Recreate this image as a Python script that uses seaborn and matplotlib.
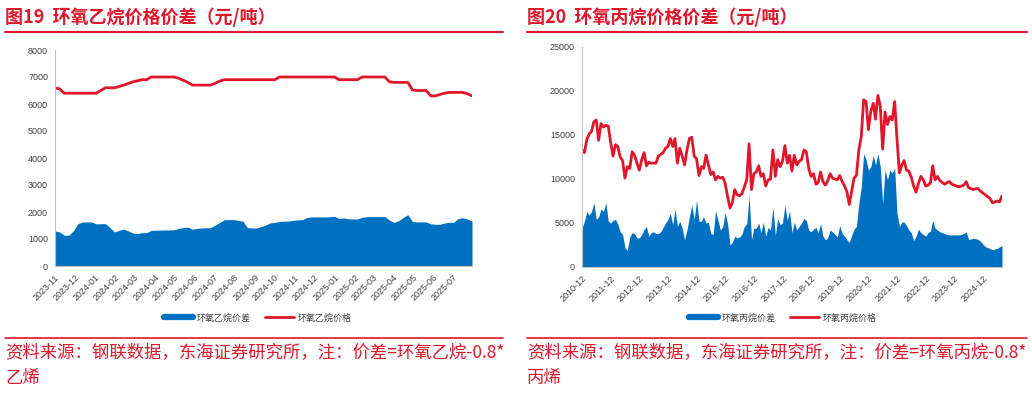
import matplotlib
matplotlib.use("Agg")
import matplotlib.pyplot as plt
import matplotlib.dates as mdates
from matplotlib.lines import Line2D
import seaborn as sns
import pandas as pd

# ---- 图19 环氧乙烷 (weekly, 2023-11 .. 2025-07) ----
eo_start = "2023-11-01"
eo_price = [6600, 6560, 6400, 6400, 6400, 6400, 6400, 6400, 6400, 6400,
            6500, 6600, 6600, 6600, 6650, 6700, 6760, 6820, 6860, 6900,
            6900, 7000, 7000, 7000, 7000, 7000, 7000, 6950, 6880, 6800,
            6700, 6700, 6700, 6700, 6700, 6770, 6850, 6900, 6900, 6900,
            6900, 6900, 6900, 6900, 6900, 6900, 6900, 6900, 6900, 7000,
            7000, 7000, 7000, 7000, 7000, 7000, 7000, 7000, 7000, 7000,
            7000, 7000, 6900, 6900, 6900, 6900, 6900, 7000, 7000, 7000,
            7000, 7000, 7000, 6820, 6800, 6800, 6800, 6800, 6520, 6500,
            6500, 6500, 6300, 6300, 6350, 6400, 6430, 6430, 6430, 6430,
            6380, 6300]
eo_spread = [1300, 1260, 1140, 1140, 1300, 1570, 1630, 1630, 1630, 1560,
             1565, 1570, 1420, 1260, 1320, 1370, 1300, 1220, 1200, 1236,
             1236, 1320, 1325, 1330, 1335, 1335, 1340, 1395, 1420, 1440,
             1360, 1395, 1409, 1415, 1420, 1520, 1620, 1718, 1718, 1718,
             1690, 1660, 1420, 1409, 1409, 1460, 1520, 1600, 1615, 1650,
             1660, 1665, 1690, 1710, 1718, 1800, 1817, 1817, 1817, 1817,
             1825, 1842, 1760, 1780, 1750, 1743, 1743, 1800, 1829, 1829,
             1829, 1829, 1829, 1700, 1615, 1680, 1800, 1900, 1650, 1632,
             1632, 1632, 1560, 1545, 1545, 1590, 1619, 1619, 1760, 1785,
             1740, 1660]

# ---- 图20 环氧丙烷 (monthly, 2010-12 .. 2025-08) ----
po_start = "2010-12-01"
po_price = [13300, 13000, 14500, 15100, 15400, 16500, 16700, 14400, 16300, 15900,
            16100, 16000, 14200, 12600, 13900, 13700, 12500, 12100, 10100, 11400,
            11200, 13100, 12700, 11800, 11000, 12200, 13000, 11500, 11900, 11800,
            11800, 11800, 12600, 12800, 13000, 13500, 13700, 14600, 13700, 14600,
            11800, 13500, 12600, 11600, 13300, 14600, 14750, 12600, 12300, 10400,
            11400, 11200, 12700, 11600, 10500, 10800, 9900, 10300, 10100, 10200,
            9500, 8000, 6700, 7300, 8800, 8200, 8100, 8300, 9100, 9900,
            14000, 8800, 10600, 10800, 11500, 10300, 10600, 9200, 9900, 10000,
            13300, 10300, 12200, 11400, 12000, 13800, 11800, 12700, 10900, 12700,
            11600, 12000, 12200, 13300, 13100, 11200, 10300, 10600, 9400, 9600,
            10800, 9700, 9300, 9800, 10600, 10100, 10000, 9900, 10400, 9700,
            9200, 8600, 7100, 8600, 10100, 10400, 13300, 14800, 19000, 18800,
            15600, 17700, 18600, 16800, 19500, 18300, 13400, 17600, 16200, 17100,
            16700, 18800, 14500, 10700, 11600, 12100, 11000, 10900, 10200, 9200,
            8500, 9500, 10300, 9900, 9200, 9300, 9600, 11500, 9900, 10300,
            9800, 9600, 9400, 9600, 9700, 9400, 9300, 9200, 9100, 9200,
            9300, 9700, 9000, 8900, 8800, 8900, 8900, 8600, 8400, 8200,
            8000, 7800, 7300, 7400, 7500, 7400, 8100]
po_spread = [4400, 5200, 6300, 5900, 6300, 7300, 5400, 5700, 6600, 6300,
             7300, 5200, 5000, 5300, 5400, 4900, 4000, 3700, 2200, 1900,
             3400, 3900, 3800, 3300, 3300, 3700, 4300, 4600, 3500, 3900,
             4000, 3800, 3800, 4000, 4500, 5000, 5400, 6100, 4800, 6600,
             4600, 5200, 4400, 3100, 4200, 5700, 7000, 5400, 7600, 5200,
             5200, 5700, 5000, 5100, 3800, 3700, 6400, 5300, 4200, 4600,
             6200, 4900, 2500, 2800, 3500, 3300, 3400, 3700, 4600, 4900,
             8100, 3100, 4400, 4400, 5000, 3900, 5100, 3500, 4500, 4200,
             6800, 3600, 5500, 4800, 5000, 7000, 5300, 6400, 3900, 5100,
             4200, 4600, 5000, 5500, 5300, 4200, 4000, 4300, 4500, 3900,
             4900, 3500, 3100, 3300, 4200, 4000, 3700, 3400, 4700, 3800,
             3500, 3100, 2800, 3600, 4300, 4600, 7200, 9100, 12900, 12200,
             11000, 11400, 12700, 11600, 12900, 11400, 7200, 11000, 9900, 11000,
             10700, 11200, 6100, 4600, 5100, 5100, 4700, 4200, 3900, 3000,
             3500, 4300, 3900, 3700, 3500, 3900, 4100, 5300, 4400, 4200,
             4000, 3900, 3800, 3700, 3650, 3650, 3650, 3650, 3650, 3700,
             3800, 4000, 3100, 3200, 3250, 3200, 3150, 2900, 2600, 2300,
             2200, 2100, 1950, 2050, 2100, 2300, 2400]

RED = "#E0162B"
BLUE = "#0070C0"
GRAY = "#BFBFBF"
TXT = "#404040"

sns.set_theme(style="white")
plt.rcParams["font.family"] = ["Noto Sans CJK SC", "DejaVu Sans"]

eo = pd.DataFrame({"date": pd.date_range(eo_start, periods=len(eo_price), freq="7D"),
                   "price": eo_price, "spread": eo_spread})
po = pd.DataFrame({"date": pd.date_range(po_start, periods=len(po_price), freq="MS"),
                   "price": po_price, "spread": po_spread})

fig = plt.figure(figsize=(10.32, 3.93), dpi=100)
W, H = 1032, 393


def box(x0, y0, x1, y1):
    return [x0 / W, 1 - y1 / H, (x1 - x0) / W, (y1 - y0) / H]


def draw(ax, df, ymax, ystep, ticks, fmt, lw_price):
    ax.fill_between(df["date"], 0, df["spread"], color=BLUE, lw=0)
    sns.lineplot(data=df, x="date", y="price", ax=ax, color=RED, lw=lw_price)
    ax.set_xlim(df["date"].iloc[0], df["date"].iloc[-1])
    ax.set_ylim(0, ymax)
    ax.set_yticks(range(0, ymax + 1, ystep))
    ax.set_xticks(ticks)
    ax.xaxis.set_major_formatter(mdates.DateFormatter(fmt))
    ax.set_xlabel("")
    ax.set_ylabel("")
    for s in ["top", "right"]:
        ax.spines[s].set_visible(False)
    for s in ["left", "bottom"]:
        ax.spines[s].set_color(GRAY)
        ax.spines[s].set_linewidth(0.8)
    ax.tick_params(axis="both", direction="out", length=3, width=0.6, color=GRAY,
                   labelsize=6.5, labelcolor=TXT, pad=2)
    for lab in ax.get_xticklabels():
        lab.set_rotation(45)
        lab.set_ha("right")
        lab.set_rotation_mode("anchor")
    for lab in ax.get_xticklabels() + ax.get_yticklabels():
        lab.set_fontfamily(["Liberation Sans", "DejaVu Sans"])


ax1 = fig.add_axes(box(55, 50, 472, 266))
draw(ax1, eo, 8000, 1000, pd.date_range("2023-11-01", "2025-07-01", freq="MS"), "%Y-%m", 2.0)

ax2 = fig.add_axes(box(582, 47, 1002, 267))
draw(ax2, po, 25000, 5000, pd.date_range("2010-12-01", "2024-12-01", freq="12MS"), "%Y-%m", 2.0)


def panel_text(x0, x1, title, names, note1, note2, leg_x):
    fig.text(x0 / W, 1 - 17 / H, title, color=RED, fontsize=13, fontweight="bold",
             va="center", ha="left")
    fig.add_artist(Line2D([x0 / W, x1 / W], [1 - 32 / H] * 2, color=RED, lw=1.5))
    fig.add_artist(Line2D([x0 / W, x1 / W], [1 - 338 / H] * 2, color=RED, lw=1.2))
    fig.text(x0 / W, 1 - 353 / H, note1, color=RED, fontsize=12.5, va="center", ha="left")
    fig.text(x0 / W, 1 - 378 / H, note2, color=RED, fontsize=12.5, va="center", ha="left")
    handles = [Line2D([], [], color=BLUE, lw=4.5), Line2D([], [], color=RED, lw=2)]
    fig.legend(handles, names, loc="center", bbox_to_anchor=(leg_x / W, 1 - 318 / H),
               ncol=2, frameon=False, fontsize=6.5, handlelength=3.2, columnspacing=1.6,
               handletextpad=0.4, labelcolor=TXT)


panel_text(5, 503, "图19  环氧乙烷价格价差（元/吨）", ["环氧乙烷价差", "环氧乙烷价格"],
           "资料来源：钢联数据，东海证券研究所，注：价差=环氧乙烷-0.8*", "乙烯", 258)
panel_text(527, 1027, "图20  环氧丙烷价格价差（元/吨）", ["环氧丙烷价差", "环氧丙烷价格"],
           "资料来源：钢联数据，东海证券研究所，注：价差=环氧丙烷-0.8*", "丙烯", 783)

fig.savefig("out.png", dpi=100, facecolor="white")
